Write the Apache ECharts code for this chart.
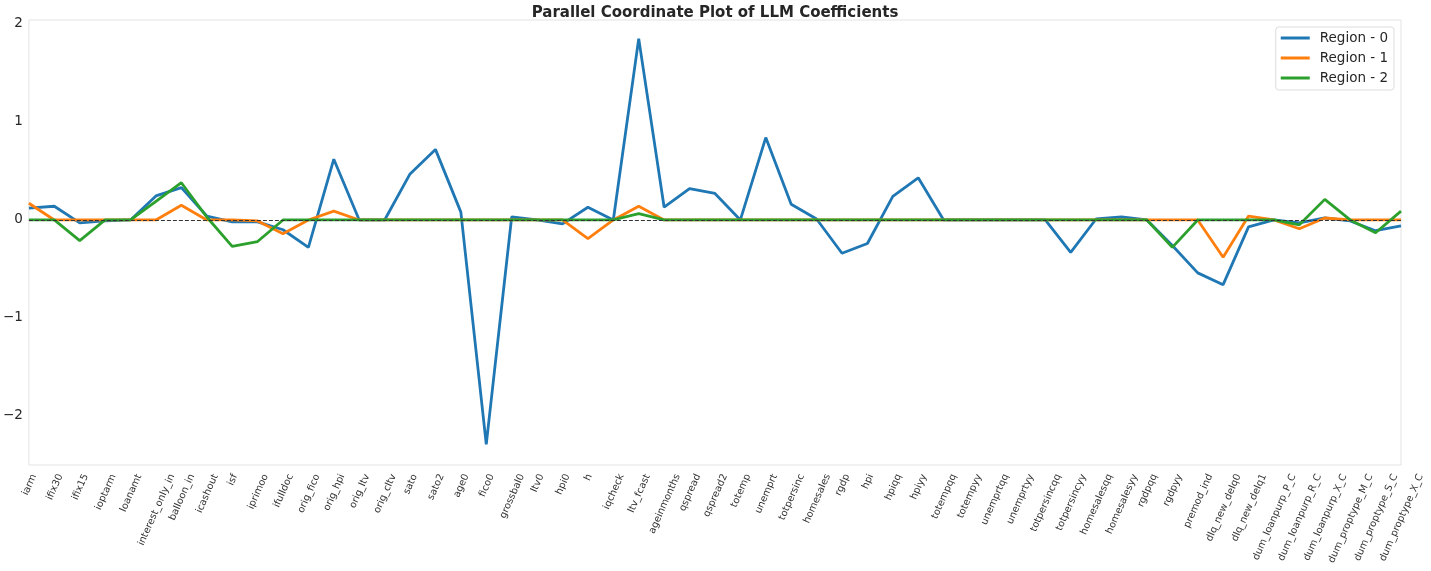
<!DOCTYPE html>
<html>
<head>
<meta charset="utf-8">
<script src="https://cdn.jsdelivr.net/npm/echarts@6/dist/echarts.min.js"></script>
<style>
  html, body { margin: 0; padding: 0; background: #fff; }
  #chart { width: 1431px; height: 571px; }
</style>
</head>
<body>
<div id="chart"></div>
<script>
const categories = ["iarm", "ifix30", "ifix15", "ioptarm", "loanamt", "interest_only_in", "balloon_in", "icashout", "isf", "iprimoo",
  "ifulldoc", "orig_fico", "orig_hpi", "orig_ltv", "orig_cltv", "sato", "sato2", "age0", "fico0", "grossbal0",
  "ltv0", "hpi0", "h", "iqcheck", "ltv_fcast", "ageinmonths", "qspread", "qspread2", "totemp", "unemprt",
  "totpersinc", "homesales", "rgdp", "hpi", "hpiqq", "hpiyy", "totempqq", "totempyy", "unemprtqq", "unemprtyy",
  "totpersincqq", "totpersincyy", "homesalesqq", "homesalesyy", "rgdpqq", "rgdpyy", "premod_ind", "dlq_new_delq0", "dlq_new_delq1", "dum_loanpurp_P_C",
  "dum_loanpurp_R_C", "dum_loanpurp_X_C", "dum_proptype_M_C", "dum_proptype_S_C", "dum_proptype_X_C"];

const region0 = [0.12, 0.14, -0.03, -0.01, 0, 0.245, 0.33, 0.04, -0.02, -0.02,
  -0.10, -0.28, 0.62, 0, 0, 0.47, 0.72, 0.08, -2.29, 0.03,
  0, -0.04, 0.13, 0, 1.85, 0.13, 0.32, 0.27, 0, 0.84,
  0.16, 0.01, -0.34, -0.24, 0.24, 0.43, 0, 0, 0, 0,
  0, -0.33, 0.01, 0.03, 0, -0.26, -0.54, -0.66, -0.07, 0,
  -0.03, 0.02, -0.01, -0.11, -0.06];

const region1 = [0.17, 0, 0, 0, 0, 0, 0.15, 0, 0, -0.01,
  -0.14, 0, 0.09, 0, 0, 0, 0, 0, 0, 0,
  0, 0, -0.19, 0, 0.14, 0, 0, 0, 0, 0,
  0, 0, 0, 0, 0, 0, 0, 0, 0, 0,
  0, 0, 0, 0, 0, 0, 0, -0.38, 0.04, 0,
  -0.09, 0.02, 0, 0, 0];

const region2 = [0, 0, -0.21, 0, 0, 0.19, 0.38, 0.03, -0.27, -0.22,
  0, 0, 0, 0, 0, 0, 0, 0, 0, 0,
  0, 0, 0, 0, 0.065, 0, 0, 0, 0, 0,
  0, 0, 0, 0, 0, 0, 0, 0, 0, 0,
  0, 0, 0, 0, 0, -0.28, 0, 0, 0, 0,
  -0.05, 0.21, 0, -0.13, 0.09];

const yTicks = [-2, -1, 0, 1, 2];

const font = "DejaVu Sans";
const labelSize = 9.8;
const labelRotate = 66;

// matplotlib centres rotated tick labels on the tick; echarts anchors them at one end,
// so pad every label so its box centre sits under the tick
const ctx = document.createElement("canvas").getContext("2d");
ctx.font = labelSize + "px \"" + font + "\"";
const th = labelRotate * Math.PI / 180;
const labelRich = {};
categories.forEach((c, i) => {
  const w = ctx.measureText(c).width;
  const d = (w * Math.sin(th) + labelSize * Math.cos(th)) / 2;
  labelRich["c" + i] = {
    fontFamily: font, fontSize: labelSize, color: "#333",
    padding: [2 * d * Math.cos(th), 2 * d * Math.sin(th) - 3, 0, 0],
  };
});

const chart = echarts.init(document.getElementById("chart"));

const lineSeries = (name, data, color) => ({
  name: name,
  type: "line",
  data: data,
  symbol: "none",
  z: 3,
  lineStyle: { color: color, width: 2.8 },
  itemStyle: { color: color },
});

chart.setOption({
  animation: false,
  backgroundColor: "#fff",
  textStyle: { fontFamily: font },
  title: {
    text: "Parallel Coordinate Plot of LLM Coefficients",
    left: 710, top: 1, textAlign: "center",
    textStyle: { fontFamily: font, fontSize: 15, fontWeight: "bold", color: "#262626" },
  },
  legend: {
    right: 37, top: 27,
    orient: "vertical",
    icon: "rect",
    itemWidth: 29, itemHeight: 3, itemGap: 6,
    padding: [4, 6, 5, 5],
    backgroundColor: "rgba(255,255,255,0.8)",
    borderColor: "#dddddd", borderWidth: 1, borderRadius: 3,
    textStyle: { fontFamily: font, fontSize: 13.5, color: "#262626", padding: [0, 0, 0, 5], lineHeight: 14 },
    data: ["Region - 0", "Region - 1", "Region - 2"],
  },
  grid: {
    left: 28, right: 30, top: 20, bottom: 106,
    show: true, borderColor: "#e3e3e3", borderWidth: 1,
  },
  xAxis: {
    type: "category",
    data: categories,
    boundaryGap: false,
    axisLine: { show: false },
    axisTick: { show: false },
    splitLine: { show: false },
    axisLabel: {
      interval: 0, rotate: labelRotate, margin: 9,
      align: "center", verticalAlign: "middle",
      formatter: (v, i) => "{c" + i + "|" + v + "}",
      rich: labelRich,
    },
  },
  yAxis: {
    type: "value",
    min: -2.5, max: 2.04,
    axisLine: { show: false },
    axisTick: { show: false },
    splitLine: { show: false },
    axisLabel: {
      customValues: yTicks,
      margin: 6,
      fontFamily: font, fontSize: 13.5, color: "#262626",
      formatter: v => (v < 0 ? "\u2212" + Math.abs(v) : String(v)),
    },
  },
  series: [
    {
      name: "zero",
      type: "line",
      data: [],
      z: 1,
      silent: true,
      markLine: {
        silent: true,
        symbol: "none",
        label: { show: false },
        lineStyle: { color: "#333", type: [4, 2], width: 1.2 },
        data: [{ yAxis: 0 }],
      },
    },
    lineSeries("Region - 0", region0, "#1f77b4"),
    lineSeries("Region - 1", region1, "#ff7f0e"),
    lineSeries("Region - 2", region2, "#2ca02c"),
  ],
});
</script>
</body>
</html>
